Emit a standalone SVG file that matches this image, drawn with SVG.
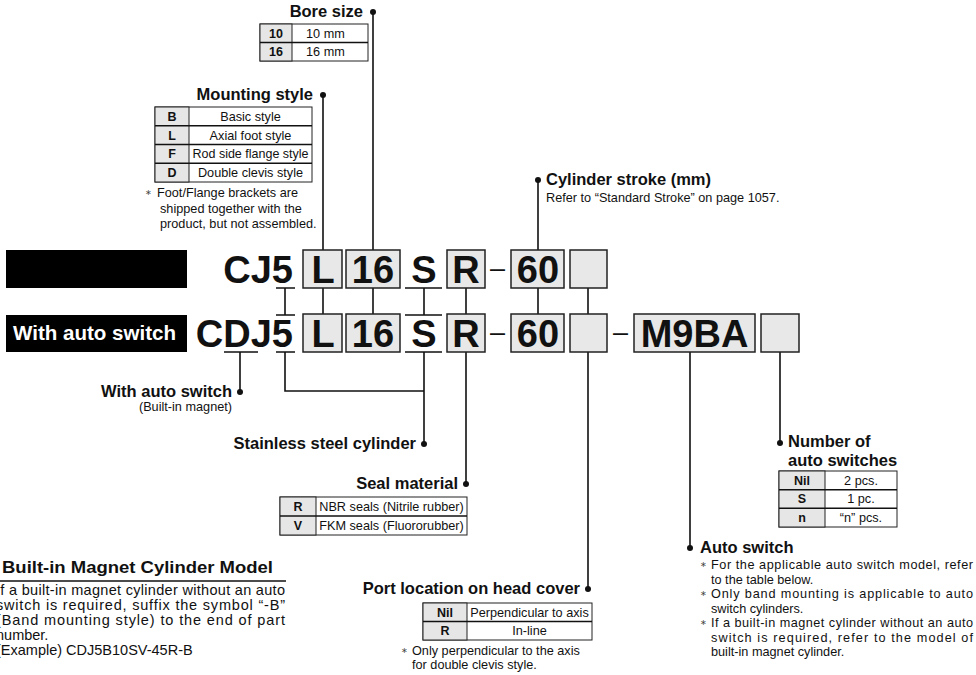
<svg xmlns="http://www.w3.org/2000/svg" width="976" height="675" viewBox="0 0 976 675">
<style>
.hd{font-family:"Liberation Sans",Arial,sans-serif;font-weight:bold;font-size:16.5px;fill:#111}
.tx{font-family:"Liberation Sans",Arial,sans-serif;font-size:12.7px;fill:#111}
.tb{font-family:"Liberation Sans",Arial,sans-serif;font-weight:bold;font-size:12.5px;fill:#111}
.p{font-family:"Liberation Sans",Arial,sans-serif;font-size:14.5px;fill:#111}
.ast{font-family:"DejaVu Sans",sans-serif;font-size:8px;fill:#444}
.big{font-family:"Liberation Sans",Arial,sans-serif;font-weight:bold;font-size:38px;fill:#111}
.dash{font-family:"Liberation Sans",Arial,sans-serif;font-size:27px;fill:#111}
.bx{fill:#e8e8e8;stroke:#222;stroke-width:1.5}
.tbl{fill:#fff;stroke:#222;stroke-width:1}
.key{fill:#e6e6e6;stroke:#222;stroke-width:1}
.ln{stroke:#111;stroke-width:1.6;fill:none}
.dot{fill:#111}
.bar{fill:#000}
.wt{font-family:"Liberation Sans",Arial,sans-serif;font-weight:bold;font-size:21px;fill:#fff}
</style>

<g id="connectors">
<path class="ln" d="M373 12V250M323 95V250M538 180V250"/>
<path class="ln" d="M323 288V314M373 288V314M466 288V314M538 288V314M588 288V314"/>
<path class="ln" d="M405 288H442M424 288V315M405 315H442"/>
<path class="ln" d="M276 288H295M285 288V315M276 315H295"/>
<path class="ln" d="M224 352H258M240 352V392"/>
<path class="ln" d="M276 352H295M285 352V391H424"/>
<path class="ln" d="M405 352H442M424 352V444"/>
<path class="ln" d="M466 352V484M588 352V589M690 352V548M780 352V443"/>
</g>

<g id="model-row1">
<rect class="bar" x="6" y="250" width="181" height="38"/>
<text class="big" x="293" y="283" text-anchor="end">CJ5</text>
<rect class="bx" x="303" y="250" width="39" height="38"/>
<text class="big" x="323" y="283" text-anchor="middle">L</text>
<rect class="bx" x="346" y="250" width="54" height="38"/>
<text class="big" x="373" y="283" text-anchor="middle">16</text>
<text class="big" x="424" y="283" text-anchor="middle">S</text>
<rect class="bx" x="447" y="250" width="38" height="38"/>
<text class="big" x="466" y="283" text-anchor="middle">R</text>
<text class="dash" x="497.5" y="276.5" text-anchor="middle">–</text>
<rect class="bx" x="511" y="250" width="53" height="38"/>
<text class="big" x="538" y="283" text-anchor="middle">60</text>
<rect class="bx" x="570" y="250" width="37" height="38"/>
</g>

<g id="model-row2">
<rect class="bar" x="6" y="315" width="181" height="37"/>
<text class="wt" x="13" y="340" textLength="163" lengthAdjust="spacingAndGlyphs">With auto switch</text>
<text class="big" x="293" y="347" text-anchor="end">CDJ5</text>
<rect class="bx" x="303" y="314" width="39" height="38"/>
<text class="big" x="323" y="347" text-anchor="middle">L</text>
<rect class="bx" x="346" y="314" width="54" height="38"/>
<text class="big" x="373" y="347" text-anchor="middle">16</text>
<text class="big" x="424" y="347" text-anchor="middle">S</text>
<rect class="bx" x="447" y="314" width="38" height="38"/>
<text class="big" x="466" y="347" text-anchor="middle">R</text>
<text class="dash" x="497.5" y="340.5" text-anchor="middle">–</text>
<rect class="bx" x="511" y="314" width="53" height="38"/>
<text class="big" x="538" y="347" text-anchor="middle">60</text>
<rect class="bx" x="570" y="314" width="37" height="38"/>
<text class="dash" x="620.5" y="340.5" text-anchor="middle">–</text>
<rect class="bx" x="634" y="314" width="121" height="38"/>
<text class="big" x="694.5" y="347" text-anchor="middle" font-size="37">M9BA</text>
<rect class="bx" x="761" y="314" width="38" height="38"/>
</g>

<g id="bore-size">
<text class="hd" x="363" y="17" text-anchor="end">Bore size</text>
<circle class="dot" cx="373" cy="12" r="3"/>
<rect class="tbl" x="260" y="24" width="108" height="37"/>
<rect class="key" x="260" y="24" width="32" height="37"/>
<path class="ln" stroke-width="1" d="M260 42.5H368"/>
<text class="tb" x="276" y="37.5" text-anchor="middle">10</text>
<text class="tb" x="276" y="56" text-anchor="middle">16</text>
<text class="tx" x="306" y="37.5">10 mm</text>
<text class="tx" x="306" y="56">16 mm</text>
</g>

<g id="mounting-style">
<text class="hd" x="313" y="100" text-anchor="end">Mounting style</text>
<circle class="dot" cx="323" cy="95" r="3"/>
<rect class="tbl" x="155" y="107" width="157" height="75"/>
<rect class="key" x="155" y="107" width="34" height="75"/>
<path class="ln" stroke-width="1" d="M155 125.75H312M155 144.5H312M155 163.25H312"/>
<text class="tb" x="172" y="120.8" text-anchor="middle">B</text>
<text class="tb" x="172" y="139.5" text-anchor="middle">L</text>
<text class="tb" x="172" y="158.3" text-anchor="middle">F</text>
<text class="tb" x="172" y="177" text-anchor="middle">D</text>
<text class="tx" x="250.5" y="120.8" text-anchor="middle">Basic style</text>
<text class="tx" x="250.5" y="139.5" text-anchor="middle">Axial foot style</text>
<text class="tx" x="250.5" y="158.3" text-anchor="middle" textLength="116" lengthAdjust="spacingAndGlyphs">Rod side flange style</text>
<text class="tx" x="250.5" y="177" text-anchor="middle">Double clevis style</text>
<text class="ast" x="145" y="195">∗</text>
<text class="tx" x="157" y="197">Foot/Flange brackets are</text>
<text class="tx" x="160" y="212.5">shipped together with the</text>
<text class="tx" x="160" y="228">product, but not assembled.</text>
</g>

<g id="cylinder-stroke">
<circle class="dot" cx="538" cy="180" r="3"/>
<text class="hd" x="546" y="185">Cylinder stroke (mm)</text>
<text class="tx" x="546" y="202">Refer to “Standard Stroke” on page 1057.</text>
</g>

<g id="with-auto-switch">
<text class="hd" x="232" y="397" text-anchor="end">With auto switch</text>
<circle class="dot" cx="240" cy="392" r="3"/>
<text class="tx" x="232" y="411" text-anchor="end">(Built-in magnet)</text>
</g>

<g id="stainless">
<text class="hd" x="416" y="449" text-anchor="end">Stainless steel cylinder</text>
<circle class="dot" cx="424" cy="444" r="3"/>
</g>

<g id="seal-material">
<text class="hd" x="458" y="489" text-anchor="end">Seal material</text>
<circle class="dot" cx="466" cy="484" r="3"/>
<rect class="tbl" x="280" y="497" width="187" height="38"/>
<rect class="key" x="280" y="497" width="36" height="38"/>
<path class="ln" stroke-width="1" d="M280 516H467"/>
<text class="tb" x="298" y="511" text-anchor="middle">R</text>
<text class="tb" x="298" y="530" text-anchor="middle">V</text>
<text class="tx" x="391.5" y="511" text-anchor="middle">NBR seals (Nitrile rubber)</text>
<text class="tx" x="391.5" y="530" text-anchor="middle">FKM seals (Fluororubber)</text>
</g>

<g id="port-location">
<text class="hd" x="580" y="594" text-anchor="end">Port location on head cover</text>
<circle class="dot" cx="588" cy="589" r="3"/>
<rect class="tbl" x="423" y="603" width="169" height="37"/>
<rect class="key" x="423" y="603" width="44" height="37"/>
<path class="ln" stroke-width="1" d="M423 621.5H592"/>
<text class="tb" x="445" y="616.5" text-anchor="middle">Nil</text>
<text class="tb" x="445" y="635" text-anchor="middle">R</text>
<text class="tx" x="529.5" y="616.5" text-anchor="middle">Perpendicular to axis</text>
<text class="tx" x="529.5" y="635" text-anchor="middle">In-line</text>
<text class="ast" x="401" y="653">∗</text>
<text class="tx" x="412" y="655">Only perpendicular to the axis</text>
<text class="tx" x="412" y="669">for double clevis style.</text>
</g>

<g id="number-of-switches">
<circle class="dot" cx="780" cy="443" r="3"/>
<text class="hd" x="788" y="447">Number of</text>
<text class="hd" x="788" y="466">auto switches</text>
<rect class="tbl" x="779" y="471" width="118" height="56"/>
<rect class="key" x="779" y="471" width="46" height="56"/>
<path class="ln" stroke-width="1" d="M779 489.7H897M779 508.3H897"/>
<text class="tb" x="802" y="484.5" text-anchor="middle">Nil</text>
<text class="tb" x="802" y="503" text-anchor="middle">S</text>
<text class="tb" x="802" y="521.7" text-anchor="middle">n</text>
<text class="tx" x="861" y="484.5" text-anchor="middle">2 pcs.</text>
<text class="tx" x="861" y="503" text-anchor="middle">1 pc.</text>
<text class="tx" x="861" y="521.7" text-anchor="middle">“n” pcs.</text>
</g>

<g id="auto-switch">
<circle class="dot" cx="690" cy="548" r="3"/>
<text class="hd" x="700" y="553">Auto switch</text>
<text class="ast" x="700" y="567">∗</text>
<text class="tx" x="711" y="569" textLength="262" lengthAdjust="spacing">For the applicable auto switch model, refer</text>
<text class="tx" x="711" y="583.5">to the table below.</text>
<text class="ast" x="700" y="596">∗</text>
<text class="tx" x="711" y="598" textLength="262" lengthAdjust="spacing">Only band mounting is applicable to auto</text>
<text class="tx" x="711" y="612.5">switch cylinders.</text>
<text class="ast" x="700" y="625">∗</text>
<text class="tx" x="711" y="627" textLength="262" lengthAdjust="spacing">If a built-in magnet cylinder without an auto</text>
<text class="tx" x="711" y="641.5" textLength="262" lengthAdjust="spacing">switch is required, refer to the model of</text>
<text class="tx" x="711" y="656">built-in magnet cylinder.</text>
</g>

<g id="built-in-magnet-note">
<text class="hd" x="2" y="573" font-size="17.5" textLength="271" lengthAdjust="spacingAndGlyphs">Built-in Magnet Cylinder Model</text>
<path class="ln" d="M0 581H286"/>
<text class="p" x="-4" y="595" textLength="289" lengthAdjust="spacing">If a built-in magnet cylinder without an auto</text>
<text class="p" x="-4" y="610" textLength="289" lengthAdjust="spacing">switch is required, suffix the symbol “-B”</text>
<text class="p" x="-4" y="625" textLength="289" lengthAdjust="spacing">(Band mounting style) to the end of part</text>
<text class="p" x="-4" y="640">number.</text>
<text class="p" x="-4" y="655">(Example) CDJ5B10SV-45R-B</text>
</g>
</svg>
